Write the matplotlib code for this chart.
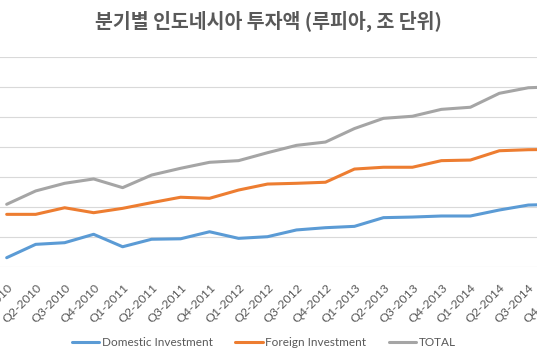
"""Quarterly Indonesian investment (trillion rupiah), domestic vs foreign vs total."""
import matplotlib
matplotlib.use("Agg")
import matplotlib.pyplot as plt

# -- data --
quarters = [
    "Q1-2010", "Q2-2010", "Q3-2010", "Q4-2010",
    "Q1-2011", "Q2-2011", "Q3-2011", "Q4-2011",
    "Q1-2012", "Q2-2012", "Q3-2012", "Q4-2012",
    "Q1-2013", "Q2-2013", "Q3-2013", "Q4-2013",
    "Q1-2014", "Q2-2014", "Q3-2014", "Q4-2014",
]
domestic = [6.4, 15.3, 16.4, 22.0, 13.7, 18.7, 19.0, 23.7, 19.3, 20.4,
            24.9, 26.4, 27.3, 33.1, 33.5, 34.2, 34.2, 38.2, 41.5, 42.0]
foreign = [35.3, 35.3, 39.7, 36.4, 39.3, 43.1, 46.7, 46.0, 51.5, 55.5,
           56.0, 56.7, 65.5, 66.7, 66.7, 71.1, 71.5, 77.7, 78.4, 78.6]
total = [42.0, 50.9, 56.0, 58.9, 53.1, 61.5, 66.0, 70.0, 71.1, 76.4,
         81.3, 83.5, 92.5, 99.3, 100.7, 105.3, 106.7, 116.0, 119.7, 120.4]

TEXT = "#595959"
GRID = "#D9D9D9"

fig = plt.figure(figsize=(5.37, 3.6), dpi=100)
fig.patch.set_facecolor("white")

# plot area is wider than the picture: y labels and last point are cropped off
W, H = 537.0, 360.0
left_px, width_px = -7.8, 579.6
top_px, bottom_px = 57.3, 267.3
ax = fig.add_axes([left_px / W, 1 - bottom_px / H, width_px / W, (bottom_px - top_px) / H])

x = list(range(len(quarters)))
ax.plot(x, domestic, color="#5B9BD5", lw=2.2, label="Domestic Investment", solid_capstyle="round")
ax.plot(x, foreign, color="#ED7D31", lw=2.2, label="Foreign Investment", solid_capstyle="round")
ax.plot(x, total, color="#A5A5A5", lw=2.2, label="TOTAL", solid_capstyle="round")

ax.set_xlim(-0.5, len(quarters) - 0.5)
ax.set_ylim(0, 140)
ax.set_yticks(range(0, 141, 20))
ax.yaxis.grid(True, color=GRID, lw=0.8)
ax.set_axisbelow(True)
for s in ax.spines.values():
    s.set_visible(False)
ax.tick_params(axis="y", left=False, labelleft=False)
ax.tick_params(axis="x", length=0, pad=10.5)
ax.set_xticks(x)
ax.set_xticklabels(quarters, rotation=45, ha="right", va="top", rotation_mode="anchor",
                   fontsize=8.8, color=TEXT, family="Lato")

fig.text(268.5 / W, 1 - 21 / H, "분기별 인도네시아 투자액 (루피아, 조 단위)",
         ha="center", va="center", fontsize=14, fontweight="bold", color=TEXT,
         family=["Noto Sans CJK KR", "DejaVu Sans"])

leg = fig.legend(loc="center", bbox_to_anchor=(264 / W, 1 - 343 / H), ncol=3, frameon=False,
                 handlelength=2.3, handletextpad=0.25, columnspacing=1.9,
                 prop={"family": "Lato", "size": 8.5})
for t in leg.get_texts():
    t.set_color(TEXT)

fig.savefig("out.png", dpi=100, facecolor="white")
plt.close(fig)
